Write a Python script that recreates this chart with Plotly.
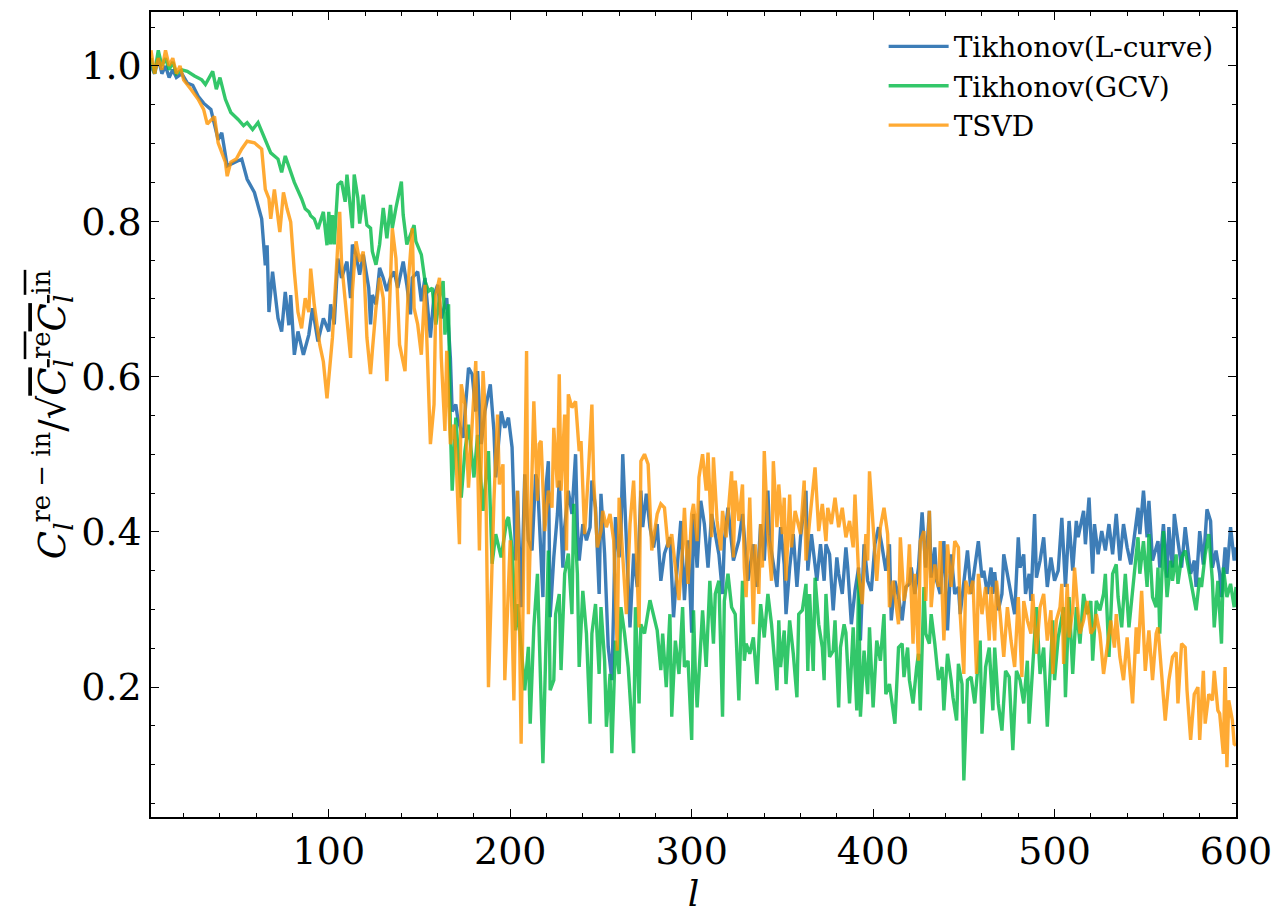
import plotly.graph_objs as go

# Tikhonov (L-curve)
l_lcurve = [2, 4, 6, 8, 10, 12, 14, 16, 19, 22, 25, 28, 31, 35, 39, 41, 44, 48, 52, 55, 59, 63, 65, 66, 67, 69,
            72, 74, 76, 78, 79, 81, 83, 86, 89, 91, 94, 97, 100, 101, 103, 105, 107, 110, 112, 113, 115, 117, 119,
            122, 123, 124, 126, 128, 130, 132, 134, 136, 138, 141, 143, 145, 146, 149, 151, 153, 156, 158, 160,
            162, 165, 167, 168, 170, 171, 174, 177, 179, 181, 182, 184, 186, 189, 191, 192, 195, 197, 199, 201,
            203, 204, 206, 208, 210, 212, 214, 215, 218, 219, 221, 222, 224, 226, 227, 229, 230, 232, 234, 236,
            237, 238, 240, 242, 244, 245, 247, 249, 250, 252, 254, 256, 257, 258, 260, 261, 262, 264, 266, 268,
            270, 272, 273, 275, 277, 279, 281, 283, 285, 288, 290, 292, 294, 296, 298, 300, 301, 303, 305, 307,
            309, 311, 313, 315, 317, 318, 320, 323, 326, 328, 331, 332, 334, 336, 338, 340, 342, 343, 345, 347,
            349, 351, 352, 354, 356, 358, 360, 363, 364, 366, 369, 371, 373, 374, 376, 378, 380, 381, 383, 385,
            386, 388, 390, 392, 393, 395, 397, 399, 401, 403, 405, 407, 409, 410, 412, 414, 416, 418, 420, 421,
            423, 425, 427, 429, 431, 432, 434, 435, 437, 439, 441, 443, 445, 447, 448, 450, 452, 454, 455, 458,
            460, 461, 463, 465, 466, 467, 469, 471, 472, 474, 476, 478, 480, 481, 483, 484, 486, 487, 489, 490,
            492, 494, 496, 498, 500, 502, 504, 506, 508, 510, 512, 513, 516, 517, 519, 521, 522, 524, 526, 528,
            530, 532, 534, 536, 538, 540, 542, 544, 546, 547, 549, 551, 552, 554, 557, 558, 560, 562, 563, 565,
            566, 568, 570, 572, 574, 575, 577, 578, 580, 582, 584, 586, 587, 589, 591, 592, 594, 595, 597, 599, 600]
c_lcurve = [1.0, 0.99, 1.01, 0.99, 1.0, 0.985, 0.995, 0.985, 0.99, 0.978, 0.975, 0.961, 0.952, 0.944, 0.905,
            0.914, 0.871, 0.876, 0.88, 0.854, 0.837, 0.803, 0.743, 0.769, 0.683, 0.735, 0.675, 0.658, 0.709, 0.666,
            0.705, 0.628, 0.658, 0.628, 0.654, 0.688, 0.645, 0.675, 0.658, 0.693, 0.667, 0.752, 0.727, 0.748, 0.701,
            0.77, 0.757, 0.731, 0.757, 0.714, 0.667, 0.705, 0.693, 0.74, 0.727, 0.71, 0.727, 0.735, 0.714, 0.748,
            0.718, 0.68, 0.727, 0.735, 0.697, 0.727, 0.65, 0.705, 0.718, 0.675, 0.701, 0.624, 0.555, 0.564, 0.547,
            0.521, 0.611, 0.603, 0.555, 0.607, 0.513, 0.555, 0.59, 0.53, 0.47, 0.555, 0.534, 0.547, 0.509, 0.363,
            0.453, 0.303, 0.474, 0.389, 0.376, 0.474, 0.466, 0.316, 0.44, 0.491, 0.29, 0.367, 0.423, 0.466, 0.354,
            0.406, 0.453, 0.423, 0.5, 0.406, 0.363, 0.41, 0.389, 0.406, 0.466, 0.431, 0.32, 0.449, 0.372, 0.252,
            0.209, 0.303, 0.419, 0.367, 0.397, 0.5, 0.38, 0.277, 0.372, 0.329, 0.453, 0.406, 0.449, 0.406, 0.38,
            0.41, 0.337, 0.372, 0.393, 0.29, 0.354, 0.414, 0.312, 0.389, 0.27, 0.423, 0.354, 0.44, 0.41, 0.354,
            0.423, 0.397, 0.371, 0.32, 0.389, 0.431, 0.363, 0.389, 0.423, 0.337, 0.354, 0.384, 0.329, 0.41, 0.363,
            0.453, 0.389, 0.358, 0.329, 0.406, 0.358, 0.294, 0.354, 0.397, 0.329, 0.393, 0.453, 0.35, 0.397, 0.337,
            0.384, 0.337, 0.384, 0.371, 0.299, 0.367, 0.346, 0.32, 0.38, 0.354, 0.281, 0.324, 0.354, 0.26, 0.384,
            0.337, 0.324, 0.384, 0.406, 0.38, 0.35, 0.384, 0.286, 0.337, 0.316, 0.286, 0.329, 0.333, 0.354, 0.32,
            0.354, 0.425, 0.354, 0.427, 0.341, 0.38, 0.337, 0.32, 0.388, 0.273, 0.371, 0.32, 0.329, 0.294, 0.333,
            0.376, 0.32, 0.337, 0.388, 0.341, 0.35, 0.32, 0.354, 0.32, 0.348, 0.299, 0.32, 0.371, 0.346, 0.316,
            0.294, 0.393, 0.354, 0.371, 0.32, 0.346, 0.311, 0.423, 0.341, 0.363, 0.393, 0.329, 0.367, 0.337, 0.35,
            0.418, 0.329, 0.414, 0.35, 0.414, 0.393, 0.427, 0.384, 0.444, 0.346, 0.41, 0.371, 0.401, 0.376, 0.41,
            0.371, 0.423, 0.363, 0.41, 0.38, 0.358, 0.393, 0.431, 0.397, 0.453, 0.393, 0.44, 0.363, 0.388, 0.354,
            0.41, 0.341, 0.406, 0.354, 0.423, 0.388, 0.354, 0.406, 0.363, 0.346, 0.363, 0.329, 0.401, 0.358, 0.429,
            0.414, 0.354, 0.376, 0.346, 0.316, 0.38, 0.346, 0.406, 0.363, 0.38]

# Tikhonov (GCV)
l_gcv = [2, 4, 6, 8, 10, 12, 14, 16, 19, 22, 26, 30, 32, 36, 38, 40, 43, 46, 50, 53, 55, 58, 61, 65, 68, 72, 74,
         76, 78, 81, 85, 87, 89, 90, 92, 94, 97, 99, 100, 101, 102, 103, 105, 107, 109, 110, 113, 114, 116, 117,
         119, 121, 123, 124, 126, 128, 130, 132, 134, 135, 137, 140, 141, 143, 147, 148, 151, 153, 155, 157, 159,
         161, 163, 164, 166, 167, 168, 170, 173, 175, 177, 180, 182, 185, 188, 190, 192, 195, 198, 199, 201, 203,
         204, 206, 208, 210, 211, 213, 214, 215, 218, 219, 221, 222, 224, 225, 227, 228, 230, 232, 234, 235, 237,
         238, 240, 242, 244, 245, 247, 249, 250, 252, 253, 255, 256, 258, 260, 261, 263, 265, 268, 269, 271, 272,
         274, 277, 279, 281, 283, 284, 286, 288, 289, 291, 293, 295, 296, 298, 300, 301, 302, 303, 306, 308, 310,
         312, 313, 315, 317, 318, 320, 322, 324, 326, 328, 329, 330, 332, 334, 336, 338, 340, 342, 344, 347, 348,
         349, 351, 352, 354, 356, 358, 359, 361, 363, 364, 365, 367, 368, 370, 372, 373, 374, 376, 378, 379, 381,
         382, 384, 385, 387, 389, 391, 392, 393, 395, 397, 398, 400, 402, 404, 406, 407, 409, 410, 412, 414, 416,
         417, 419, 420, 422, 424, 425, 426, 428, 429, 431, 432, 434, 436, 438, 439, 441, 443, 444, 446, 447, 449,
         450, 452, 454, 456, 459, 460, 462, 464, 466, 467, 469, 471, 473, 475, 477, 479, 481, 483, 485, 486, 488,
         490, 492, 494, 496, 499, 500, 502, 505, 506, 508, 510, 512, 514, 516, 518, 520, 521, 523, 525, 527, 528,
         530, 532, 534, 535, 537, 539, 541, 543, 545, 546, 547, 549, 551, 552, 554, 556, 557, 558, 560, 562, 564,
         565, 567, 568, 570, 572, 574, 576, 578, 580, 581, 583, 585, 587, 588, 590, 592, 593, 595, 597, 599, 600]
c_gcv = [1.01, 0.99, 1.02, 1.0, 1.01, 0.995, 1.005, 0.99, 0.995, 0.993, 0.987, 0.982, 0.976, 0.993, 0.97, 0.985,
         0.957, 0.94, 0.931, 0.923, 0.927, 0.918, 0.927, 0.905, 0.888, 0.88, 0.863, 0.884, 0.871, 0.85, 0.829,
         0.816, 0.812, 0.807, 0.803, 0.79, 0.812, 0.769, 0.812, 0.77, 0.808, 0.77, 0.847, 0.851, 0.825, 0.86,
         0.791, 0.86, 0.83, 0.797, 0.834, 0.795, 0.791, 0.761, 0.744, 0.77, 0.817, 0.778, 0.821, 0.791, 0.817,
         0.851, 0.808, 0.77, 0.795, 0.774, 0.757, 0.723, 0.71, 0.714, 0.667, 0.701, 0.723, 0.654, 0.693, 0.534,
         0.453, 0.547, 0.444, 0.504, 0.538, 0.47, 0.525, 0.427, 0.504, 0.359, 0.397, 0.367, 0.414, 0.419, 0.38,
         0.273, 0.307, 0.252, 0.196, 0.252, 0.153, 0.277, 0.32, 0.346, 0.102, 0.183, 0.376, 0.196, 0.209, 0.294,
         0.32, 0.222, 0.346, 0.372, 0.294, 0.436, 0.346, 0.226, 0.324, 0.269, 0.153, 0.269, 0.307, 0.217, 0.303,
         0.234, 0.149, 0.217, 0.115, 0.26, 0.217, 0.303, 0.269, 0.226, 0.115, 0.303, 0.179, 0.281, 0.269, 0.312,
         0.294, 0.273, 0.222, 0.269, 0.2, 0.294, 0.162, 0.26, 0.217, 0.303, 0.226, 0.234, 0.132, 0.299, 0.221,
         0.174, 0.299, 0.226, 0.337, 0.256, 0.32, 0.337, 0.162, 0.311, 0.346, 0.303, 0.294, 0.183, 0.337, 0.234,
         0.256, 0.243, 0.264, 0.204, 0.307, 0.264, 0.32, 0.281, 0.196, 0.286, 0.226, 0.273, 0.204, 0.286, 0.243,
         0.187, 0.294, 0.299, 0.333, 0.221, 0.32, 0.221, 0.341, 0.281, 0.251, 0.209, 0.32, 0.239, 0.247, 0.286,
         0.174, 0.251, 0.281, 0.27, 0.179, 0.277, 0.17, 0.346, 0.162, 0.247, 0.191, 0.277, 0.174, 0.26, 0.234,
         0.294, 0.191, 0.204, 0.187, 0.153, 0.251, 0.256, 0.213, 0.251, 0.209, 0.179, 0.226, 0.243, 0.17, 0.329,
         0.269, 0.256, 0.294, 0.256, 0.209, 0.226, 0.17, 0.243, 0.209, 0.187, 0.157, 0.23, 0.204, 0.08, 0.209,
         0.213, 0.179, 0.26, 0.14, 0.226, 0.251, 0.17, 0.251, 0.179, 0.144, 0.221, 0.213, 0.119, 0.221, 0.209,
         0.179, 0.234, 0.153, 0.221, 0.303, 0.217, 0.251, 0.149, 0.286, 0.209, 0.264, 0.303, 0.187, 0.316, 0.217,
         0.303, 0.256, 0.32, 0.294, 0.311, 0.234, 0.311, 0.299, 0.32, 0.346, 0.239, 0.346, 0.358, 0.316, 0.277,
         0.346, 0.277, 0.329, 0.371, 0.393, 0.346, 0.388, 0.329, 0.397, 0.316, 0.303, 0.354, 0.269, 0.401, 0.316,
         0.363, 0.337, 0.371, 0.333, 0.367, 0.376, 0.35, 0.329, 0.299, 0.341, 0.329, 0.371, 0.397, 0.337, 0.277,
         0.337, 0.256, 0.354, 0.316, 0.333, 0.303, 0.329]

# TSVD
l_tsvd = [2, 4, 6, 8, 10, 12, 14, 16, 18, 20, 24, 28, 31, 33, 37, 39, 43, 44, 46, 49, 52, 55, 59, 63, 65, 67, 68,
          70, 73, 75, 77, 79, 81, 83, 85, 87, 89, 90, 92, 95, 97, 99, 102, 104, 106, 107, 109, 111, 112, 113, 115,
          117, 119, 121, 123, 124, 126, 128, 130, 132, 134, 135, 137, 139, 142, 144, 146, 147, 149, 151, 153, 154,
          156, 158, 159, 161, 162, 164, 165, 167, 169, 170, 172, 173, 175, 177, 179, 181, 183, 185, 186, 188, 191,
          193, 194, 196, 197, 199, 200, 202, 203, 204, 206, 207, 209, 210, 211, 213, 215, 216, 217, 219, 221, 223,
          224, 226, 227, 228, 230, 231, 232, 234, 236, 238, 239, 241, 243, 245, 246, 248, 250, 251, 253, 255, 257,
          259, 260, 261, 264, 266, 268, 269, 271, 272, 274, 276, 278, 281, 283, 285, 287, 289, 291, 293, 295, 296,
          298, 300, 301, 303, 304, 306, 308, 309, 311, 312, 314, 316, 317, 319, 322, 323, 324, 326, 328, 329, 330,
          332, 334, 335, 337, 338, 339, 340, 342, 344, 345, 347, 348, 350, 351, 352, 354, 355, 357, 358, 360, 362,
          363, 365, 367, 368, 370, 372, 374, 375, 377, 379, 381, 383, 385, 387, 389, 390, 392, 394, 396, 397, 398,
          400, 402, 404, 406, 408, 409, 411, 414, 415, 417, 419, 420, 422, 423, 425, 426, 428, 429, 431, 432, 434,
          436, 437, 439, 441, 443, 445, 447, 448, 450, 451, 453, 455, 457, 458, 460, 462, 464, 465, 467, 468, 470,
          472, 474, 476, 478, 480, 482, 483, 485, 487, 488, 490, 492, 494, 496, 498, 499, 501, 503, 504, 505, 507,
          508, 510, 511, 513, 514, 516, 518, 520, 522, 523, 525, 527, 529, 531, 533, 534, 536, 538, 540, 541, 543,
          545, 546, 548, 550, 552, 554, 556, 557, 559, 561, 563, 565, 567, 568, 570, 572, 573, 575, 577, 579, 580,
          582, 583, 585, 587, 588, 590, 591, 593, 594, 595, 596, 598, 599, 600]
c_tsvd = [1.02, 0.99, 1.01, 0.995, 1.02, 1.0, 1.01, 0.99, 1.0, 0.982, 0.97, 0.957, 0.944, 0.925, 0.935, 0.901,
          0.876, 0.858, 0.876, 0.88, 0.893, 0.903, 0.901, 0.893, 0.841, 0.829, 0.803, 0.841, 0.786, 0.837, 0.816,
          0.799, 0.735, 0.683, 0.662, 0.701, 0.683, 0.739, 0.692, 0.641, 0.619, 0.572, 0.65, 0.74, 0.812, 0.748,
          0.697, 0.65, 0.624, 0.71, 0.774, 0.748, 0.761, 0.65, 0.603, 0.633, 0.688, 0.727, 0.701, 0.594, 0.727,
          0.791, 0.752, 0.641, 0.607, 0.727, 0.791, 0.688, 0.667, 0.628, 0.718, 0.65, 0.513, 0.564, 0.705, 0.727,
          0.624, 0.53, 0.633, 0.513, 0.538, 0.504, 0.384, 0.59, 0.564, 0.457, 0.547, 0.62, 0.376, 0.607, 0.564,
          0.2, 0.44, 0.551, 0.461, 0.487, 0.209, 0.346, 0.389, 0.183, 0.346, 0.453, 0.127, 0.303, 0.633, 0.294,
          0.389, 0.568, 0.44, 0.513, 0.517, 0.401, 0.453, 0.431, 0.534, 0.457, 0.603, 0.453, 0.551, 0.376, 0.577,
          0.56, 0.568, 0.504, 0.517, 0.397, 0.474, 0.564, 0.466, 0.38, 0.401, 0.427, 0.406, 0.423, 0.389, 0.247,
          0.444, 0.406, 0.294, 0.41, 0.466, 0.406, 0.277, 0.491, 0.5, 0.487, 0.376, 0.423, 0.436, 0.431, 0.38,
          0.397, 0.35, 0.312, 0.38, 0.431, 0.333, 0.423, 0.436, 0.388, 0.47, 0.5, 0.453, 0.502, 0.393, 0.496,
          0.414, 0.376, 0.427, 0.393, 0.478, 0.367, 0.466, 0.414, 0.461, 0.354, 0.316, 0.444, 0.281, 0.384, 0.32,
          0.41, 0.354, 0.504, 0.397, 0.337, 0.491, 0.406, 0.461, 0.397, 0.444, 0.337, 0.448, 0.38, 0.427, 0.418,
          0.397, 0.466, 0.363, 0.414, 0.457, 0.483, 0.401, 0.436, 0.388, 0.431, 0.41, 0.444, 0.406, 0.431, 0.393,
          0.414, 0.38, 0.448, 0.346, 0.307, 0.397, 0.363, 0.478, 0.414, 0.337, 0.406, 0.431, 0.397, 0.303, 0.337,
          0.281, 0.393, 0.311, 0.337, 0.384, 0.256, 0.346, 0.234, 0.388, 0.401, 0.311, 0.427, 0.303, 0.358, 0.329,
          0.388, 0.26, 0.384, 0.329, 0.388, 0.38, 0.294, 0.217, 0.337, 0.32, 0.337, 0.217, 0.346, 0.294, 0.329,
          0.26, 0.329, 0.26, 0.337, 0.294, 0.239, 0.303, 0.26, 0.226, 0.316, 0.213, 0.311, 0.286, 0.269, 0.32,
          0.243, 0.303, 0.32, 0.26, 0.299, 0.217, 0.286, 0.303, 0.333, 0.23, 0.333, 0.264, 0.299, 0.354, 0.294,
          0.269, 0.286, 0.311, 0.269, 0.277, 0.294, 0.269, 0.217, 0.251, 0.286, 0.251, 0.294, 0.239, 0.209, 0.264,
          0.239, 0.179, 0.277, 0.243, 0.324, 0.221, 0.273, 0.209, 0.269, 0.277, 0.217, 0.157, 0.209, 0.239, 0.245,
          0.179, 0.256, 0.251, 0.196, 0.132, 0.191, 0.2, 0.132, 0.221, 0.153, 0.191, 0.183, 0.221, 0.17, 0.166,
          0.114, 0.226, 0.097, 0.183, 0.157, 0.127, 0.125]

FONT = "DejaVu Serif"

fig = go.Figure()
fig.add_trace(go.Scatter(x=l_lcurve, y=c_lcurve, mode='lines', name='Tikhonov(L-curve)',
                         line=dict(color='rgba(12,93,165,0.8)', width=3.4)))
fig.add_trace(go.Scatter(x=l_gcv, y=c_gcv, mode='lines', name='Tikhonov(GCV)',
                         line=dict(color='rgba(0,185,69,0.8)', width=3.4)))
fig.add_trace(go.Scatter(x=l_tsvd, y=c_tsvd, mode='lines', name='TSVD',
                         line=dict(color='rgba(255,149,0,0.8)', width=3.4)))

axis_common = dict(
    showline=True, linecolor='black', linewidth=1.5, mirror='allticks',
    ticks='inside', ticklen=8, tickwidth=1.2, tickcolor='black',
    showgrid=False, zeroline=False,
    tickfont=dict(family=FONT, size=38, color='black'),
)

fig.update_xaxes(range=[2, 600], dtick=100, tick0=0,
                 minor=dict(dtick=20, ticks='inside', ticklen=4, tickcolor='black', tickwidth=1),
                 title=dict(text='<i>l</i>', font=dict(family=FONT, size=36, color='black'), standoff=2),
                 **axis_common)
fig.update_yaxes(range=[0.0328, 1.0694], dtick=0.2, tick0=0, tickformat='.1f',
                 minor=dict(dtick=0.05, ticks='inside', ticklen=4, tickcolor='black', tickwidth=1),
                 title=dict(text="<i>C</i><sub><i>l</i></sub><sup>re − in</sup>/√<span style='text-decoration:overline'>"
                                 "<i>C</i><sub><i>l</i></sub><sup>re</sup><i>C</i><sub><i>l</i></sub><sup>in</sup></span>",
                            font=dict(family=FONT, size=37, color='black'), standoff=4),
                 **axis_common)

# page body has an 8px margin, so the figure is shrunk by that much
fig.update_layout(
    width=1273, height=913,
    margin=dict(l=143, r=45, t=2, b=104),
    plot_bgcolor='white', paper_bgcolor='white',
    font=dict(family=FONT, color='black'),
    showlegend=True,
    legend=dict(x=0.984, y=0.988, xanchor='right', yanchor='top',
                bgcolor='rgba(0,0,0,0)', borderwidth=0,
                font=dict(family=FONT, size=28, color='black'),
                itemwidth=60, tracegroupgap=0),
)

fig.write_html("out.html")
